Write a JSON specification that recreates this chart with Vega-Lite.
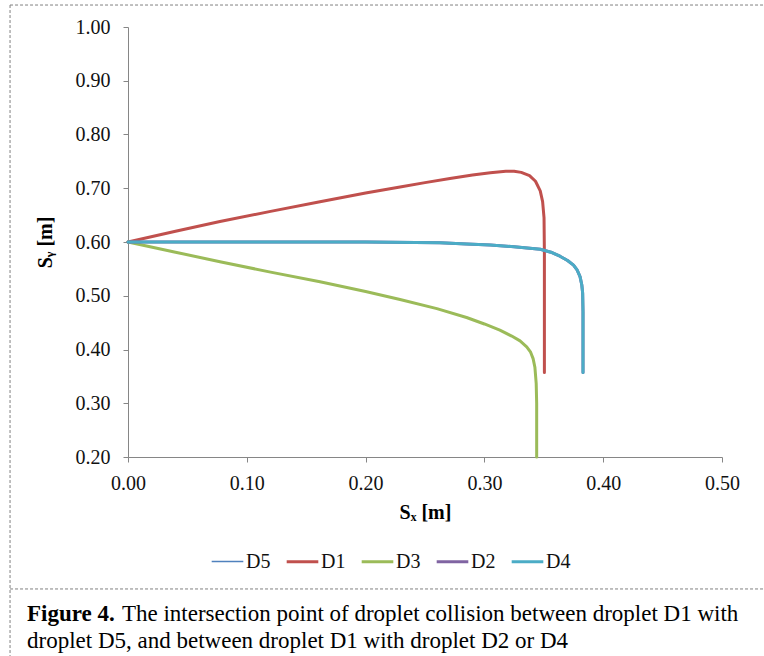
{
  "$schema": "https://vega.github.io/schema/vega-lite/v6.json",
  "width": 594,
  "height": 430,
  "autosize": {"type": "none"},
  "padding": {"left": 128, "top": 27, "right": 42, "bottom": 199},
  "background": "white",
  "config": {
    "font": "Liberation Serif",
    "view": {"stroke": null},
    "axis": {
      "grid": false,
      "domainColor": "#868686",
      "tickColor": "#868686",
      "tickSize": 5,
      "labelFontSize": 20,
      "labelColor": "#111111",
      "labelFont": "Liberation Serif",
      "titleFont": "Liberation Serif",
      "titleFontSize": 20,
      "titleFontWeight": "bold",
      "titleColor": "#000000",
      "labelFlush": false
    }
  },
  "layer": [
    {
      "data": {
        "values": [
          {"droplet": "D5", "sx": 0, "sy": 0.6},
          {"droplet": "D5", "sx": 0.05, "sy": 0.6},
          {"droplet": "D5", "sx": 0.1, "sy": 0.6},
          {"droplet": "D5", "sx": 0.15, "sy": 0.6},
          {"droplet": "D5", "sx": 0.2, "sy": 0.6},
          {"droplet": "D5", "sx": 0.2626, "sy": 0.5985},
          {"droplet": "D5", "sx": 0.285, "sy": 0.5965},
          {"droplet": "D5", "sx": 0.305, "sy": 0.5944},
          {"droplet": "D5", "sx": 0.325, "sy": 0.591},
          {"droplet": "D5", "sx": 0.347, "sy": 0.5864},
          {"droplet": "D5", "sx": 0.356, "sy": 0.581},
          {"droplet": "D5", "sx": 0.3636, "sy": 0.5735},
          {"droplet": "D5", "sx": 0.37, "sy": 0.5655},
          {"droplet": "D5", "sx": 0.375, "sy": 0.557},
          {"droplet": "D5", "sx": 0.378, "sy": 0.548},
          {"droplet": "D5", "sx": 0.3805, "sy": 0.5355},
          {"droplet": "D5", "sx": 0.382, "sy": 0.52},
          {"droplet": "D5", "sx": 0.3827, "sy": 0.505},
          {"droplet": "D5", "sx": 0.383, "sy": 0.47},
          {"droplet": "D5", "sx": 0.383, "sy": 0.357},

          {"droplet": "D1", "sx": 0, "sy": 0.6},
          {"droplet": "D1", "sx": 0.04, "sy": 0.62},
          {"droplet": "D1", "sx": 0.0774, "sy": 0.638},
          {"droplet": "D1", "sx": 0.12, "sy": 0.657},
          {"droplet": "D1", "sx": 0.1616, "sy": 0.675},
          {"droplet": "D1", "sx": 0.2, "sy": 0.691},
          {"droplet": "D1", "sx": 0.229, "sy": 0.7025},
          {"droplet": "D1", "sx": 0.25, "sy": 0.7105},
          {"droplet": "D1", "sx": 0.271, "sy": 0.718},
          {"droplet": "D1", "sx": 0.29, "sy": 0.7245},
          {"droplet": "D1", "sx": 0.305, "sy": 0.729},
          {"droplet": "D1", "sx": 0.318, "sy": 0.7318},
          {"droplet": "D1", "sx": 0.325, "sy": 0.7318},
          {"droplet": "D1", "sx": 0.331, "sy": 0.7295},
          {"droplet": "D1", "sx": 0.338, "sy": 0.7235},
          {"droplet": "D1", "sx": 0.343, "sy": 0.713},
          {"droplet": "D1", "sx": 0.347, "sy": 0.695},
          {"droplet": "D1", "sx": 0.349, "sy": 0.675},
          {"droplet": "D1", "sx": 0.3502, "sy": 0.645},
          {"droplet": "D1", "sx": 0.3505, "sy": 0.58},
          {"droplet": "D1", "sx": 0.3505, "sy": 0.357},

          {"droplet": "D3", "sx": 0, "sy": 0.6},
          {"droplet": "D3", "sx": 0.04, "sy": 0.581},
          {"droplet": "D3", "sx": 0.0774, "sy": 0.5633},
          {"droplet": "D3", "sx": 0.12, "sy": 0.544},
          {"droplet": "D3", "sx": 0.1616, "sy": 0.526},
          {"droplet": "D3", "sx": 0.2, "sy": 0.508},
          {"droplet": "D3", "sx": 0.229, "sy": 0.493},
          {"droplet": "D3", "sx": 0.26, "sy": 0.476},
          {"droplet": "D3", "sx": 0.285, "sy": 0.4595},
          {"droplet": "D3", "sx": 0.3, "sy": 0.4475},
          {"droplet": "D3", "sx": 0.313, "sy": 0.436},
          {"droplet": "D3", "sx": 0.323, "sy": 0.425},
          {"droplet": "D3", "sx": 0.33, "sy": 0.416},
          {"droplet": "D3", "sx": 0.3356, "sy": 0.405},
          {"droplet": "D3", "sx": 0.3389, "sy": 0.395},
          {"droplet": "D3", "sx": 0.341, "sy": 0.383},
          {"droplet": "D3", "sx": 0.3425, "sy": 0.367},
          {"droplet": "D3", "sx": 0.3436, "sy": 0.337},
          {"droplet": "D3", "sx": 0.344, "sy": 0.3},
          {"droplet": "D3", "sx": 0.344, "sy": 0.2},

          {"droplet": "D2", "sx": 0, "sy": 0.6},
          {"droplet": "D2", "sx": 0.05, "sy": 0.6},
          {"droplet": "D2", "sx": 0.1, "sy": 0.6},
          {"droplet": "D2", "sx": 0.15, "sy": 0.6},
          {"droplet": "D2", "sx": 0.2, "sy": 0.6},
          {"droplet": "D2", "sx": 0.2626, "sy": 0.5985},
          {"droplet": "D2", "sx": 0.285, "sy": 0.5965},
          {"droplet": "D2", "sx": 0.305, "sy": 0.5944},
          {"droplet": "D2", "sx": 0.325, "sy": 0.591},
          {"droplet": "D2", "sx": 0.347, "sy": 0.5864},
          {"droplet": "D2", "sx": 0.356, "sy": 0.581},
          {"droplet": "D2", "sx": 0.3636, "sy": 0.5735},
          {"droplet": "D2", "sx": 0.37, "sy": 0.5655},
          {"droplet": "D2", "sx": 0.375, "sy": 0.557},
          {"droplet": "D2", "sx": 0.378, "sy": 0.548},
          {"droplet": "D2", "sx": 0.3805, "sy": 0.5355},
          {"droplet": "D2", "sx": 0.382, "sy": 0.52},
          {"droplet": "D2", "sx": 0.3827, "sy": 0.505},
          {"droplet": "D2", "sx": 0.383, "sy": 0.47},
          {"droplet": "D2", "sx": 0.383, "sy": 0.357},

          {"droplet": "D4", "sx": 0, "sy": 0.6},
          {"droplet": "D4", "sx": 0.05, "sy": 0.6},
          {"droplet": "D4", "sx": 0.1, "sy": 0.6},
          {"droplet": "D4", "sx": 0.15, "sy": 0.6},
          {"droplet": "D4", "sx": 0.2, "sy": 0.6},
          {"droplet": "D4", "sx": 0.2626, "sy": 0.5985},
          {"droplet": "D4", "sx": 0.285, "sy": 0.5965},
          {"droplet": "D4", "sx": 0.305, "sy": 0.5944},
          {"droplet": "D4", "sx": 0.325, "sy": 0.591},
          {"droplet": "D4", "sx": 0.347, "sy": 0.5864},
          {"droplet": "D4", "sx": 0.356, "sy": 0.581},
          {"droplet": "D4", "sx": 0.3636, "sy": 0.5735},
          {"droplet": "D4", "sx": 0.37, "sy": 0.5655},
          {"droplet": "D4", "sx": 0.375, "sy": 0.557},
          {"droplet": "D4", "sx": 0.378, "sy": 0.548},
          {"droplet": "D4", "sx": 0.3805, "sy": 0.5355},
          {"droplet": "D4", "sx": 0.382, "sy": 0.52},
          {"droplet": "D4", "sx": 0.3827, "sy": 0.505},
          {"droplet": "D4", "sx": 0.383, "sy": 0.47},
          {"droplet": "D4", "sx": 0.383, "sy": 0.357}
        ]
      },
      "mark": {"type": "line", "strokeCap": "round", "strokeJoin": "round"},
      "encoding": {
        "x": {
          "field": "sx", "type": "quantitative",
          "scale": {"domain": [0, 0.5], "nice": false, "zero": false},
          "axis": {"values": [0, 0.1, 0.2, 0.3, 0.4, 0.5], "format": ".2f", "title": "Sₓ [m]", "labelPadding": 11, "titlePadding": 9}
        },
        "y": {
          "field": "sy", "type": "quantitative",
          "scale": {"domain": [0.2, 1.0], "nice": false, "zero": false},
          "axis": {"values": [0.2, 0.3, 0.4, 0.5, 0.6, 0.7, 0.8, 0.9, 1.0], "format": ".2f", "title": "Sᵧ [m]", "labelPadding": 13, "titlePadding": 20}
        },
        "color": {
          "field": "droplet", "type": "nominal",
          "scale": {"domain": ["D5", "D1", "D3", "D2", "D4"], "range": ["#4F81BD", "#C0504D", "#9BBB59", "#8064A2", "#4BACC6"]},
          "legend": {
            "title": null, "orient": "none", "direction": "horizontal", "columns": 5,
            "legendX": 82, "legendY": 517, "padding": 0,
            "symbolType": "stroke", "symbolSize": 1000,
            "labelFontSize": 20, "labelFont": "Liberation Serif", "labelColor": "#111111",
            "labelOffset": 1, "columnPadding": 9
          }
        },
        "strokeWidth": {
          "field": "droplet", "type": "nominal",
          "scale": {"type": "ordinal", "domain": ["D5", "D1", "D3", "D2", "D4"], "range": [1.5, 3, 3, 3, 3]}
        },
        "order": {"value": null}
      }
    },
    {
      "data": {"values": [{}]},
      "mark": {"type": "rule", "color": "#808080", "strokeWidth": 1, "strokeDash": [3, 2]},
      "encoding": {
        "x": {"datum": -0.0993, "type": "quantitative", "scale": {"domain": [0, 0.5], "nice": false, "zero": false}},
        "x2": {"datum": 0.5354},
        "y": {"datum": 1.0409, "type": "quantitative", "scale": {"domain": [0.2, 1.0], "nice": false, "zero": false}}
      }
    },
    {
      "data": {"values": [{}]},
      "mark": {"type": "rule", "color": "#808080", "strokeWidth": 1, "strokeDash": [3, 2]},
      "encoding": {
        "x": {"datum": -0.0993, "type": "quantitative", "scale": {"domain": [0, 0.5], "nice": false, "zero": false}},
        "x2": {"datum": 0.5354},
        "y": {"datum": -0.0455, "type": "quantitative", "scale": {"domain": [0.2, 1.0], "nice": false, "zero": false}}
      }
    },
    {
      "data": {"values": [{}]},
      "mark": {"type": "rule", "color": "#808080", "strokeWidth": 1, "strokeDash": [3, 2]},
      "encoding": {
        "x": {"datum": -0.0993, "type": "quantitative", "scale": {"domain": [0, 0.5], "nice": false, "zero": false}},
        "y": {"datum": 1.0409, "type": "quantitative", "scale": {"domain": [0.2, 1.0], "nice": false, "zero": false}},
        "y2": {"datum": -0.1702}
      }
    },
    {
      "data": {"values": [{}]},
      "mark": {"type": "text", "text": "Figure 4.", "fontWeight": "bold", "fontSize": 23, "font": "Liberation Serif", "align": "left", "baseline": "alphabetic", "color": "#000000"},
      "encoding": {
        "x": {"datum": -0.085, "type": "quantitative", "scale": {"domain": [0, 0.5], "nice": false, "zero": false}},
        "y": {"datum": -0.1051, "type": "quantitative", "scale": {"domain": [0.2, 1.0], "nice": false, "zero": false}}
      }
    },
    {
      "data": {"values": [{}]},
      "mark": {"type": "text", "text": "The intersection point of droplet collision between droplet D1 with", "fontSize": 23, "font": "Liberation Serif", "align": "left", "baseline": "alphabetic", "color": "#000000", "dx": 0},
      "encoding": {
        "x": {"datum": -0.0051, "type": "quantitative", "scale": {"domain": [0, 0.5], "nice": false, "zero": false}},
        "y": {"datum": -0.1051, "type": "quantitative", "scale": {"domain": [0.2, 1.0], "nice": false, "zero": false}}
      }
    },
    {
      "data": {"values": [{}]},
      "mark": {"type": "text", "text": "droplet D5, and between droplet D1 with droplet D2 or D4", "fontSize": 23, "font": "Liberation Serif", "align": "left", "baseline": "alphabetic", "color": "#000000"},
      "encoding": {
        "x": {"datum": -0.085, "type": "quantitative", "scale": {"domain": [0, 0.5], "nice": false, "zero": false}},
        "y": {"datum": -0.1553, "type": "quantitative", "scale": {"domain": [0.2, 1.0], "nice": false, "zero": false}}
      }
    }
  ]
}
